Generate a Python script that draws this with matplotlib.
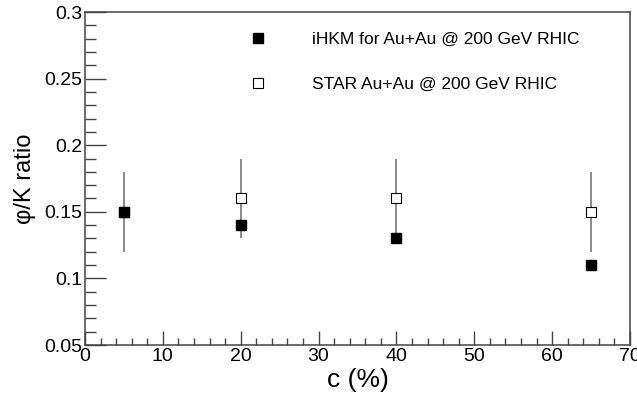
import matplotlib
matplotlib.use("Agg")
import matplotlib.pyplot as plt
from matplotlib.ticker import MultipleLocator
from matplotlib.lines import Line2D

plt.rcParams['font.family'] = ['Liberation Sans', 'DejaVu Sans']

centrality = [5, 20, 40, 65]
ihkm_ratio = [0.15, 0.14, 0.13, 0.11]
star_ratio = [0.15, 0.16, 0.16, 0.15]
star_err = [0.03, 0.03, 0.03, 0.03]

fig = plt.figure(figsize=(6.37, 3.96), dpi=100)
ax = fig.add_axes([85/637, 1-345/396, (630-85)/637, (345-12)/396])

ax.errorbar(centrality, star_ratio, yerr=star_err, fmt='none',
            ecolor='#777777', elinewidth=1.2, capsize=0, zorder=1)
ax.plot(centrality, star_ratio, 's', mfc='white', mec='black', mew=0.8, ms=7.5, zorder=2)
ax.plot(centrality, ihkm_ratio, 's', color='black', ms=7.5, zorder=3)

ax.set_xlim(0, 70)
ax.set_ylim(0.05, 0.3)
ax.xaxis.set_minor_locator(MultipleLocator(2))
ax.yaxis.set_minor_locator(MultipleLocator(0.01))
ax.set_xticks([0, 10, 20, 30, 40, 50, 60, 70])
ax.set_xticklabels(['0', '10', '20', '30', '40', '50', '60', '70'])
ax.set_yticks([0.05, 0.1, 0.15, 0.2, 0.25, 0.3])
ax.set_yticklabels(['0.05', '0.1', '0.15', '0.2', '0.25', '0.3'])

ax.tick_params(which='both', direction='in', top=False, right=False, color='#444444', width=1)
ax.tick_params(axis='x', which='major', length=10, labelsize=14, pad=2)
ax.tick_params(axis='x', which='minor', length=5)
ax.tick_params(axis='y', which='major', length=15, labelsize=14, pad=2)
ax.tick_params(axis='y', which='minor', length=8)
for s in ax.spines.values():
    s.set_color('#444444')
    s.set_linewidth(1.1)

ax.set_xlabel('c (%)', fontsize=19, labelpad=2)
ax.set_ylabel('φ/K ratio', fontsize=17, labelpad=6)

h_ihkm = Line2D([], [], ls='none', marker='s', color='black', ms=7.5)
h_star = Line2D([], [], ls='none', marker='s', mfc='white', mec='black', mew=0.8, ms=7.5)
ax.legend([h_ihkm, h_star], ['iHKM for Au+Au @ 200 GeV RHIC', 'STAR Au+Au @ 200 GeV RHIC'],
          loc='upper left', bbox_to_anchor=((234-85)/545, 1-4/333), frameon=False,
          fontsize=12.5, labelspacing=1.75, handletextpad=2.6, handlelength=1.0,
          numpoints=1)

fig.savefig('out.png', dpi=100)
